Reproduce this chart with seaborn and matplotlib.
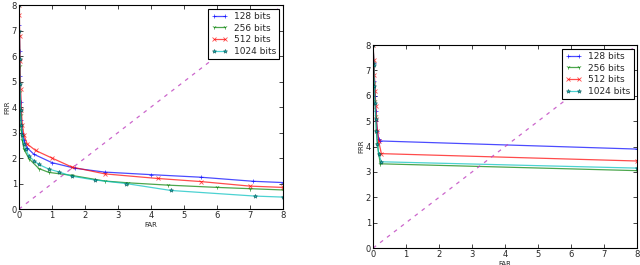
import matplotlib
matplotlib.use("Agg")
import matplotlib.pyplot as plt
import seaborn as sns

# left panel
l128_x = [0.0, 0.01, 0.02, 0.03, 0.05, 0.07, 0.1, 0.15, 0.25, 0.45, 1.0, 1.7, 2.6, 4.0, 5.5, 7.1, 8.0]
l128_y = [8.0, 7.2, 6.2, 5.2, 4.2, 3.5, 3.0, 2.7, 2.4, 2.15, 1.82, 1.6, 1.45, 1.35, 1.25, 1.09, 1.04]
l256_x = [0.0, 0.01, 0.02, 0.03, 0.05, 0.07, 0.1, 0.15, 0.3, 0.6, 0.9, 1.6, 2.6, 3.3, 4.5, 6.0, 7.0, 8.0]
l256_y = [8.0, 6.8, 5.6, 4.6, 3.7, 3.1, 2.7, 2.35, 1.98, 1.59, 1.44, 1.32, 1.1, 1.03, 0.94, 0.85, 0.8, 0.75]
l512_x = [0.0, 0.01, 0.02, 0.03, 0.05, 0.07, 0.1, 0.15, 0.25, 0.5, 1.0, 1.6, 2.6, 4.2, 5.5, 7.0, 8.0]
l512_y = [8.0, 7.6, 6.8, 5.8, 4.7, 3.9, 3.3, 2.9, 2.55, 2.3, 2.0, 1.65, 1.38, 1.2, 1.08, 0.9, 0.85]
l1024_x = [0.0, 0.01, 0.02, 0.03, 0.05, 0.07, 0.1, 0.15, 0.2, 0.3, 0.45, 0.6, 0.9, 1.2, 1.6, 2.3, 3.25, 4.6, 7.15, 8.0]
l1024_y = [8.0, 7.0, 5.9, 4.9, 3.9, 3.3, 2.9, 2.55, 2.35, 2.08, 1.9, 1.75, 1.57, 1.46, 1.29, 1.14, 1.0, 0.73, 0.51, 0.47]

# right panel
r128_x = [0.0, 0.02, 0.04, 0.06, 0.08, 0.1, 0.13, 0.17, 0.2, 8.0]
r128_y = [8.0, 7.3, 6.6, 6.0, 5.4, 5.0, 4.6, 4.3, 4.22, 3.9]
r256_x = [0.0, 0.02, 0.04, 0.06, 0.08, 0.1, 0.13, 0.17, 0.22, 8.0]
r256_y = [8.0, 7.3, 6.5, 5.8, 5.2, 4.6, 4.1, 3.7, 3.32, 3.05]
r512_x = [0.0, 0.02, 0.04, 0.06, 0.08, 0.1, 0.13, 0.17, 0.25, 8.0]
r512_y = [8.0, 7.4, 6.8, 6.2, 5.6, 5.1, 4.6, 4.2, 3.72, 3.43]
r1024_x = [0.0, 0.02, 0.04, 0.06, 0.08, 0.1, 0.13, 0.17, 0.25, 8.0]
r1024_y = [8.0, 7.2, 6.4, 5.7, 5.1, 4.6, 4.1, 3.7, 3.4, 3.15]

labels = ["128 bits", "256 bits", "512 bits", "1024 bits"]
colors = ["#0000ff", "#008000", "#ff0000", "#00bfbf"]
markers = ["+", "1", "x", "*"]
diag = [0, 8]

sns.set_style("ticks")
plt.rcParams['font.family'] = ['DejaVu Sans']
plt.rcParams['xtick.direction'] = 'in'
plt.rcParams['ytick.direction'] = 'in'

fig = plt.figure(figsize=(6.4, 2.65), dpi=100)
ax1 = fig.add_axes([0.0297, 0.211, 0.4125, 0.770])
ax2 = fig.add_axes([0.583, 0.064, 0.4125, 0.766])

panels = [
    (ax1, [(l128_x, l128_y), (l256_x, l256_y), (l512_x, l512_y), (l1024_x, l1024_y)]),
    (ax2, [(r128_x, r128_y), (r256_x, r256_y), (r512_x, r512_y), (r1024_x, r1024_y)]),
]

for ax, series in panels:
    for (xs, ys), lab, col, mk in zip(series, labels, colors, markers):
        mec = "#005050" if mk == "*" else col
        sns.lineplot(x=xs, y=ys, ax=ax, color=col, marker=mk, markersize=3,
                     markeredgecolor=mec, markeredgewidth=0.6, lw=0.9, alpha=0.7,
                     label=lab, sort=False, estimator=None)
    sns.lineplot(x=diag, y=diag, ax=ax, color="#bf40bf", lw=0.9, ls=(0, (3, 4)),
                 alpha=0.8, legend=False)
    ax.set_xlim(0, 8)
    ax.set_ylim(0, 8)
    ax.set_xticks(range(9))
    ax.set_yticks(range(9))
    ax.tick_params(labelsize=6, length=3, width=0.6, pad=1.5, top=True, right=True)
    for s in ax.spines.values():
        s.set_linewidth(0.8)
        s.set_color("black")
    ax.set_xlabel("FAR", fontsize=5, labelpad=1)
    ax.set_ylabel("FRR", fontsize=5, labelpad=1)
    leg = ax.legend(loc="upper right", fontsize=6.5, fancybox=False, framealpha=1,
                    edgecolor="black", handlelength=1.8, handletextpad=0.7,
                    borderpad=0.35, labelspacing=0.3, numpoints=2,
                    borderaxespad=0.4)
    leg.get_frame().set_linewidth(0.8)

fig.savefig("out.png", dpi=100)
